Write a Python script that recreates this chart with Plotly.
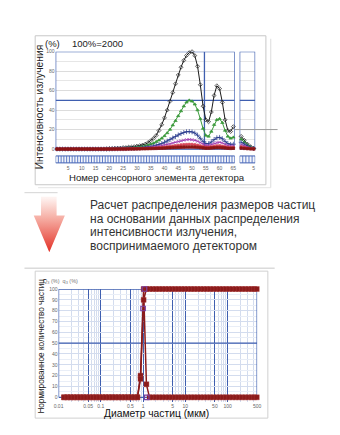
import math
import plotly.graph_objects as go

W, H = 340, 435
FONT = "Arial, 'Liberation Sans', sans-serif"
BLUE = "#3f5fb0"


def px(x):
    return x / W


def py(y):
    return 1 - y / H


# ---------------- detector intensity (% of 2000 counts) ----------------
sensor = list(range(1, 66))
side_sensor = [1, 2, 3, 4, 5]

int_black = [0, 0, 0, 0, 0, 0, 0, 0, 0, 0,
             0, 0, 0, 0, 0, 0, 0, 0, 0.3, 0.5,
             0.5, 0.8, 1, 1, 1.5, 1.5, 2, 2, 2.5, 3,
             3.5, 4, 5, 6.5, 8.5, 11, 14, 19, 25, 32,
             40, 49, 58, 67, 76, 84, 91, 96, 99, 100,
             96, 85, 66, 44, 30, 28, 38, 55, 65, 62,
             48, 30, 19, 18, 23]
int_green = [0, 0, 0, 0, 0, 0, 0, 0, 0, 0,
             0, 0, 0, 0, 0, 0, 0, 0, 0, 0,
             0.2, 0.3, 0.4, 0.5, 0.6, 0.8, 1, 1.2, 1.5, 1.8,
             2.2, 2.7, 3.3, 4, 5, 6, 7.5, 9, 11, 13.5,
             16.5, 20, 24.5, 29, 34, 39, 44, 48, 50, 49,
             46, 40, 31, 21, 14, 13, 18, 25, 30, 31,
             27, 19, 13, 11, 12]
int_navy = [0, 0, 0, 0, 0, 0, 0, 0, 0, 0,
            0, 0, 0, 0, 0, 0, 0, 0, 0, 0,
            0.1, 0.2, 0.2, 0.3, 0.3, 0.4, 0.5, 0.6, 0.7, 0.9,
            1.1, 1.4, 1.7, 2.1, 2.6, 3.2, 3.9, 4.7, 5.7, 6.9,
            8.2, 9.7, 11.3, 12.9, 14.5, 15.9, 17, 17.8, 18, 17.6,
            16.4, 14.2, 11, 7.6, 5.6, 5.5, 7.3, 9.8, 11.6, 12,
            10.6, 7.8, 5.6, 4.8, 5]
int_purple = [0, 0, 0, 0, 0, 0, 0, 0, 0, 0,
              0, 0, 0, 0, 0, 0, 0, 0, 0, 0,
              0, 0, 0.1, 0.2, 0.2, 0.3, 0.4, 0.4, 0.5, 0.6,
              0.8, 0.9, 1.1, 1.4, 1.7, 2, 2.4, 2.9, 3.4, 4,
              4.7, 5.4, 6.2, 7, 7.8, 8.5, 9.1, 9.6, 9.8, 9.6,
              9, 8, 6.6, 5, 3.8, 3.7, 4.6, 5.9, 6.8, 7,
              6.2, 4.7, 3.6, 3.1, 3.3]
int_red = [0, 0, 0, 0, 0, 0, 0, 0, 0, 0,
           0, 0, 0, 0, 0, 0, 0, 0, 0, 0,
           0, 0, 0, 0, 0.1, 0.1, 0.2, 0.2, 0.3, 0.3,
           0.4, 0.5, 0.6, 0.7, 0.9, 1, 1.2, 1.5, 1.7, 2,
           2.4, 2.8, 3.2, 3.6, 4, 4.4, 4.7, 4.9, 5, 4.9,
           4.6, 4.1, 3.4, 2.6, 2, 2, 2.4, 3, 3.4, 3.5,
           3.1, 2.4, 1.8, 1.6, 1.7]
int_darkred = [0, 0, 0, 0, 0, 0, 0, 0, 0, 0,
               0, 0, 0, 0, 0, 0, 0, 0, 0, 0,
               0, 0, 0, 0, 0, 0, 0.1, 0.1, 0.1, 0.2,
               0.2, 0.3, 0.3, 0.4, 0.5, 0.6, 0.7, 0.8, 0.9, 1,
               1.2, 1.3, 1.5, 1.6, 1.8, 1.9, 2, 2.1, 2.1, 2.1,
               2, 1.8, 1.5, 1.2, 0.9, 0.9, 1.1, 1.3, 1.5, 1.5,
               1.3, 1.1, 0.8, 0.7, 0.8]

side_black = [13, 9, 5, 2.5, 0.8]
side_green = [10, 7, 4, 2, 0.6]
side_navy = [7, 5, 3, 1.4, 0.5]
side_purple = [4.5, 3.2, 2, 1, 0.3]
side_red = [2.4, 1.7, 1.1, 0.5, 0.2]
side_darkred = [1, 0.7, 0.4, 0.2, 0.1]

int_ticks = [0, 20, 40, 60, 80, 100]
sensor_ticks = [5, 10, 15, 20, 25, 30, 35, 40, 45, 50, 55, 60, 65]

# ---------------- particle size distribution ----------------
size_um = [0.0135, 0.0161, 0.0192, 0.0228, 0.0272, 0.0323, 0.0385, 0.0458, 0.0545, 0.0648,
           0.0771, 0.0918, 0.109, 0.130, 0.155, 0.184, 0.219, 0.261, 0.310, 0.369,
           0.439, 0.523, 0.622, 0.735, 0.87, 1.03, 1.20, 1.42, 1.69, 2.01,
           2.39, 2.84, 3.38, 4.02, 4.78, 5.69, 6.77, 8.05, 9.58, 11.4,
           13.6, 16.1, 19.2, 22.8, 27.2, 32.3, 38.5, 45.8, 54.5, 64.8,
           77.1, 91.8, 109, 130, 155, 184, 219, 261, 310, 369,
           425, 490]
Q3_cum = [0, 0, 0, 0, 0, 0, 0, 0, 0, 0,
          0, 0, 0, 0, 0, 0, 0, 0, 0, 0,
          0, 0, 0, 0, 17, 90, 100, 100, 100, 100,
          100, 100, 100, 100, 100, 100, 100, 100, 100, 100,
          100, 100, 100, 100, 100, 100, 100, 100, 100, 100,
          100, 100, 100, 100, 100, 100, 100, 100, 100, 100,
          100, 100]
q3_freq = [0, 0, 0, 0, 0, 0, 0, 0, 0, 0,
           0, 0, 0, 0, 0, 0, 0, 0, 0, 0,
           0, 0, 0, 0, 20, 100, 12, 0, 0, 0,
           0, 0, 0, 0, 0, 0, 0, 0, 0, 0,
           0, 0, 0, 0, 0, 0, 0, 0, 0, 0,
           0, 0, 0, 0, 0, 0, 0, 0, 0, 0,
           0, 0]
ref_size = [1.0, 1.08, 1.22]
ref_val = [82, 100, 0]

size_range = [0.01, 500]
size_ticks = [0.01, 0.05, 0.1, 0.5, 1, 5, 10, 50, 100, 500]
size_tick_text = ["0.01", "0.05", "0.1", "0.5", "1", "5", "10", "50", "100", "500"]
size_minor = [0.02, 0.03, 0.04, 0.06, 0.07, 0.08, 0.09,
              0.2, 0.3, 0.4, 0.6, 0.7, 0.8, 0.9,
              2, 3, 4, 6, 7, 8, 9,
              20, 30, 40, 60, 70, 80, 90,
              200, 300, 400]
amount_ticks = [0, 10, 20, 30, 40, 50, 60, 70, 80, 90, 100]
amount_minor = [5, 15, 25, 35, 45, 55, 65, 75, 85, 95]

fig = go.Figure()

# ---------------- intensity curves ----------------
series = [
    (int_black, side_black, "#1c1c1c", "diamond-open", 3),
    (int_green, side_green, "#3b9a3b", "triangle-up", 3),
    (int_navy, side_navy, "#283a8c", "cross-thin-open", 3.5),
    (int_purple, side_purple, "#a03cb0", "x-thin-open", 3),
    (int_red, side_red, "#d9485a", "square", 2),
    (int_darkred, side_darkred, "#8c1515", "square", 2.5),
]
for main_vals, side_vals, color, symbol, msize in series:
    common = dict(mode="lines+markers", line=dict(color=color, width=1),
                  marker=dict(symbol=symbol, size=msize, color=color,
                              line=dict(width=0.7, color=color)),
                  cliponaxis=False, showlegend=False, hoverinfo="skip")
    fig.add_trace(go.Scatter(x=sensor, y=main_vals, xaxis="x", yaxis="y", **common))
    fig.add_trace(go.Scatter(x=side_sensor, y=side_vals, xaxis="x2", yaxis="y2", **common))

# ---------------- size distribution plot frame and 50 % line ----------------
frame_line = dict(color=BLUE, width=1.3)
fig.add_trace(go.Scatter(x=[size_range[0], size_range[0], size_range[1], size_range[1], size_range[0]],
                         y=[0, 100, 100, 0, 0], xaxis="x3", yaxis="y3", mode="lines",
                         line=frame_line, cliponaxis=False, showlegend=False, hoverinfo="skip"))
fig.add_trace(go.Scatter(x=size_range, y=[50, 50], xaxis="x3", yaxis="y3", mode="lines",
                         line=frame_line, cliponaxis=False, showlegend=False, hoverinfo="skip"))

# ---------------- size distribution curves ----------------
DR = "#8b1a1a"
for vals in (q3_freq, Q3_cum):
    fig.add_trace(go.Scatter(x=size_um, y=vals, xaxis="x3", yaxis="y3",
                             mode="lines+markers", line=dict(color=DR, width=1.5),
                             marker=dict(symbol="square", size=5, color=DR,
                                         line=dict(width=0.4, color="#a84040")),
                             cliponaxis=False, showlegend=False, hoverinfo="skip"))
fig.add_trace(go.Scatter(x=ref_size, y=ref_val, xaxis="x3", yaxis="y3", mode="markers",
                         marker=dict(symbol="square-open", size=4.5, color="#7a3fa0",
                                     line=dict(width=1.2, color="#7a3fa0")),
                         cliponaxis=False, showlegend=False, hoverinfo="skip"))

# ---------------- gradient arrow ----------------
arrow_x = [37, 53, 53, 61.5, 45.5, 29.5, 37, 37]
arrow_y = [195, 195, 214, 214, 251, 214, 214, 195]
fig.add_trace(go.Scatter(x=arrow_x, y=arrow_y, xaxis="x4", yaxis="y4", mode="lines",
                         line=dict(width=0, color="rgba(0,0,0,0)"), fill="toself",
                         fillgradient=dict(type="vertical", start=195, stop=251,
                                           colorscale=[[0, "rgb(254,242,240)"],
                                                       [0.35, "rgb(246,176,166)"],
                                                       [1, "rgb(226,42,32)"]]),
                         showlegend=False, hoverinfo="skip"))

tick_font = dict(size=5, color="#666")
grid_top = "#dcdcdc"
grid_bot = "#d3dcee"

fig.update_layout(
    width=W, height=H, margin=dict(l=0, r=0, t=0, b=0),
    paper_bgcolor="white", plot_bgcolor="rgba(0,0,0,0)", showlegend=False,
    font=dict(family=FONT, color="#222"),
    xaxis=dict(domain=[px(52), px(236)], range=[0.5, 65.5], anchor="y",
               tickvals=sensor_ticks, tickfont=tick_font, showgrid=False,
               zeroline=False, ticks="", ticklabelstandoff=12),
    yaxis=dict(domain=[py(150), py(49)], range=[-3, 100], anchor="x",
               tickvals=int_ticks, tickfont=tick_font, gridcolor=grid_top, gridwidth=0.8,
               minor=dict(tickvals=[10, 30, 50, 70, 90], showgrid=True,
                          gridcolor="#e6e6e6", gridwidth=0.8),
               zeroline=False, ticks=""),
    xaxis2=dict(domain=[px(241), px(257)], range=[0.5, 5.5], anchor="y2",
                tickvals=[5], tickfont=tick_font, showgrid=False,
                zeroline=False, ticks="", ticklabelstandoff=12),
    yaxis2=dict(domain=[py(150), py(49)], range=[-3, 100], anchor="x2",
                tickvals=int_ticks, showticklabels=False, gridcolor=grid_top, gridwidth=0.8,
                minor=dict(tickvals=[10, 30, 50, 70, 90], showgrid=True,
                           gridcolor="#e6e6e6", gridwidth=0.8),
                zeroline=False, ticks=""),
    xaxis3=dict(type="log", domain=[px(55), px(259)],
                range=[math.log10(size_range[0]), math.log10(size_range[1])],
                anchor="y3", tickvals=size_ticks, ticktext=size_tick_text,
                tickfont=tick_font, gridcolor=BLUE, gridwidth=1.2,
                minor=dict(tickvals=size_minor, showgrid=True, gridcolor=grid_bot,
                           gridwidth=0.7, ticks=""),
                zeroline=False, ticks=""),
    yaxis3=dict(domain=[py(401.4), py(288)], range=[-4, 100], anchor="x3",
                tickvals=amount_ticks, tickfont=tick_font, gridcolor=grid_bot, gridwidth=0.8,
                minor=dict(tickvals=amount_minor, showgrid=True, gridcolor="#e9eef7",
                           gridwidth=0.6),
                zeroline=False, ticks=""),
    xaxis4=dict(domain=[0, 1], range=[0, W], anchor="y4", visible=False, fixedrange=True),
    yaxis4=dict(domain=[0, 1], range=[H, 0], anchor="x4", visible=False, fixedrange=True),
)

shapes = []
GRAY = "#c8c8c8"


def pline(x0, y0, x1, y1, color=GRAY, width=1):
    shapes.append(dict(type="line", xref="paper", yref="paper",
                       x0=px(x0), y0=py(y0), x1=px(x1), y1=py(y1),
                       line=dict(color=color, width=width), layer="below"))


# panel outlines
shapes.append(dict(type="rect", xref="paper", yref="paper", x0=px(31), x1=px(268),
                   y0=py(183), y1=py(33), line=dict(color=GRAY, width=1), layer="below"))
pline(273, 36, 273, 186, "#dcdcdc")
pline(34, 186, 273, 186, "#e4e4e4")
pline(20, 191, 54, 191, "#d4d4d4")
pline(20, 267, 277, 267, GRAY)
shapes.append(dict(type="rect", xref="paper", yref="paper", x0=px(31), x1=px(270),
                   y0=py(418), y1=py(270), line=dict(color="#d0d0d0", width=1), layer="below"))

# blue frames of the intensity plot
for xr, yr, x1 in (("x", "y", 65.5), ("x2", "y2", 5.5)):
    shapes.append(dict(type="rect", xref=xr, yref=yr, x0=0.5, x1=x1, y0=0, y1=100,
                       line=dict(color=BLUE, width=1.3), layer="between"))
    shapes.append(dict(type="line", xref=xr, yref=yr, x0=0.5, x1=x1, y0=50, y1=50,
                       line=dict(color=BLUE, width=1.3), layer="between"))
shapes.append(dict(type="line", xref="x", yref="y", x0=54.5, x1=54.5, y0=0, y1=100,
                   line=dict(color=BLUE, width=1.3), layer="between"))
shapes.append(dict(type="line", xref="paper", yref="y", x0=px(236), x1=px(280), y0=20, y1=20,
                   line=dict(color="#9a9a9a", width=1), layer="above"))

# detector sensor element strips
for xr, n in (("x", 65), ("x2", 5)):
    shapes.append(dict(type="rect", xref=xr, yref="paper", x0=0.5, x1=n + 0.5,
                       y0=py(161), y1=py(154), fillcolor="#f2f5fb",
                       line=dict(color=BLUE, width=1)))
    for i in range(1, n):
        shapes.append(dict(type="line", xref=xr, yref="paper", x0=i + 0.5, x1=i + 0.5,
                           y0=py(161), y1=py(154), line=dict(color="#4d6cc0", width=0.9)))

fig.update_layout(shapes=shapes)

ann = []


def text(x, y, s, size, color="#222", xanchor="left", angle=0):
    ann.append(dict(x=px(x), y=py(y), xref="paper", yref="paper", text=s, showarrow=False,
                    xanchor=xanchor, yanchor="middle", textangle=angle,
                    font=dict(size=size, color=color, family=FONT)))


text(39, 41, "(%)", 9.5)
text(67, 41, "100%=2000", 9.5)
text(35, 105, "Интенсивность излучения", 10.3, "#222", "center", -90)
text(156, 176, "Номер сенсорного элемента детектора", 9.6, "#222", "center")

middle = ["Расчет распределения размеров частиц",
          "на основании данных распределения",
          "интенсивности излучения,",
          "воспринимаемого детектором"]
for k, line in enumerate(middle):
    text(85, 203 + 14 * k, line, 12, "#333")

text(37, 280, "Q<sub>3</sub> (%)  q<sub>3</sub> (%)", 5.5, "#777")
text(38, 345, "Нормированное количество частиц", 8.2, "#222", "center", -90)
text(156, 413.5, "Диаметр частиц (мкм)", 10.3, "#111", "center")

fig.update_layout(annotations=ann)

fig.write_html("out.html")
